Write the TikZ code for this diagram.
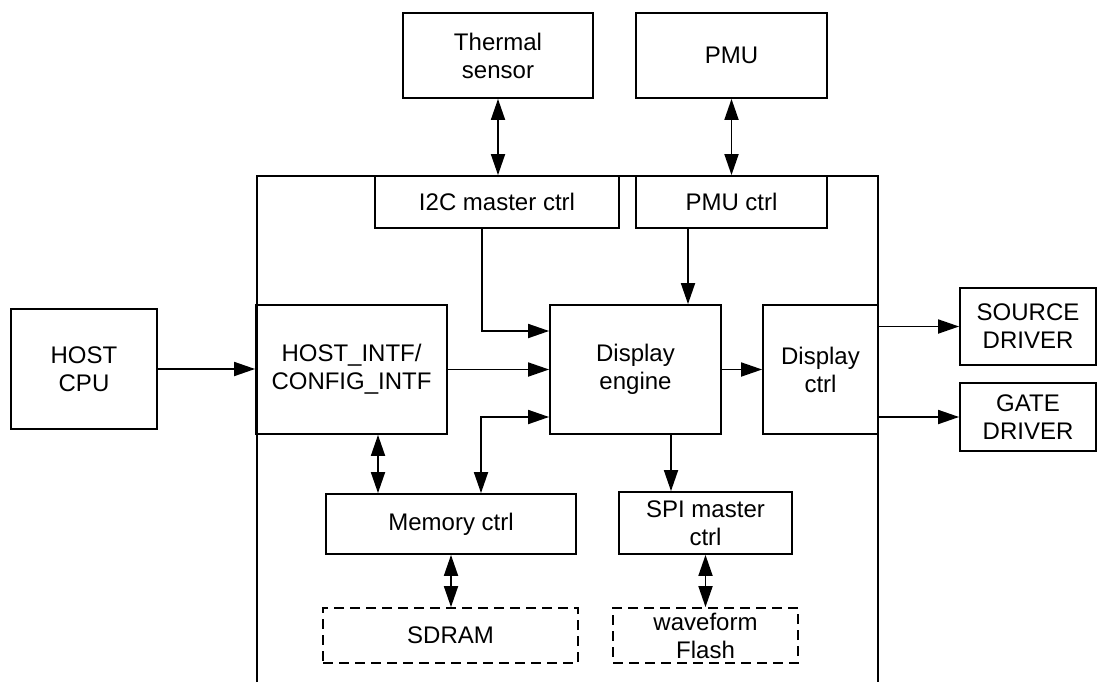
\documentclass[tikz,border=0pt]{standalone}
\usepackage{fontspec}
\setmainfont{Liberation Sans}
\usetikzlibrary{arrows.meta}
\begin{document}
\begin{tikzpicture}[x=1pt,y=-1pt,
  blk/.style={draw, line width=1.8pt, rectangle, inner sep=0pt, align=center,
    font=\fontsize{24}{28}\selectfont},
  dblk/.style={blk, dash pattern=on 10pt off 6pt},
  conn/.style={line width=1.8pt, -{Triangle[length=21pt,width=14pt]}},
  bconn/.style={line width=1.8pt, {Triangle[length=21pt,width=14pt]}-{Triangle[length=21pt,width=14pt]}}
]
\useasboundingbox (0,0) rectangle (1099,682);
% outer chip frame (open at the bottom)
\draw[line width=1.8pt] (257,682) -- (257,176) -- (878,176) -- (878,682);

\node[blk, minimum width=190pt, minimum height=85pt] (thermal) at (498,55.5) {Thermal\\sensor};
\node[blk, minimum width=191pt, minimum height=85pt] (pmu) at (731.5,55.5) {PMU};
\node[blk, minimum width=244pt, minimum height=52pt] (i2c) at (497,202) {I2C master ctrl};
\node[blk, minimum width=191pt, minimum height=52pt] (pmuctrl) at (731.5,202) {PMU ctrl};
\node[blk, minimum width=146pt, minimum height=120pt] (host) at (84,369) {HOST\\CPU};
\node[blk, minimum width=191pt, minimum height=129pt] (hostintf) at (351.5,369.5) {HOST\_INTF/\\CONFIG\_INTF};
\node[blk, minimum width=171pt, minimum height=129pt] (engine) at (635.5,369.5) {Display\\engine};
\node[blk, minimum width=115pt, minimum height=129pt] (dispctrl) at (820.5,369.5) {Display\\ctrl};
\node[blk, minimum width=136pt, minimum height=77pt] (source) at (1028,326.5) {SOURCE\\DRIVER};
\node[blk, minimum width=136pt, minimum height=68pt] (gate) at (1028,417) {GATE\\DRIVER};
\node[blk, minimum width=250pt, minimum height=60pt] (memctrl) at (451,524) {Memory ctrl};
\node[blk, minimum width=173pt, minimum height=62pt] (spi) at (705.5,523) {SPI master\\ctrl};
\node[dblk, minimum width=255pt, minimum height=55pt] (sdram) at (450.5,635.5) {SDRAM};
\node[dblk, minimum width=185pt, minimum height=55pt] (flash) at (705.5,635.5) {waveform\\Flash};

% connectors
\draw[bconn] (thermal.south) -- (thermal.south |- i2c.north);
\draw[bconn] (pmu.south) -- (pmu.south |- pmuctrl.north);
\draw[conn] ([xshift=-15pt]i2c.south) |- ([yshift=38.5pt]engine.west);
\draw[conn] ([xshift=-43.5pt]pmuctrl.south) -- ([xshift=-43.5pt]pmuctrl.south |- engine.north);
\draw[conn] (host.east) -- (host.east -| hostintf.west);
\draw[conn] (hostintf.east) -- (engine.west);
\draw[conn] (engine.east) -- (dispctrl.west);
\draw[conn] (dispctrl.east |- source.west) -- (source.west);
\draw[conn] (dispctrl.east |- gate.west) -- (gate.west);
\draw[bconn] ([yshift=-47.5pt]engine.west) -| ([xshift=30pt]memctrl.north);
\draw[bconn] ([xshift=-73pt]memctrl.north) -- ([xshift=-73pt]memctrl.north |- hostintf.south);
\draw[conn] ([xshift=35.5pt]engine.south) -- ([xshift=35.5pt]engine.south |- spi.north);
\draw[bconn] (memctrl.south) -- (memctrl.south |- sdram.north);
\draw[bconn] (spi.south) -- (spi.south |- flash.north);
\end{tikzpicture}
\end{document}
